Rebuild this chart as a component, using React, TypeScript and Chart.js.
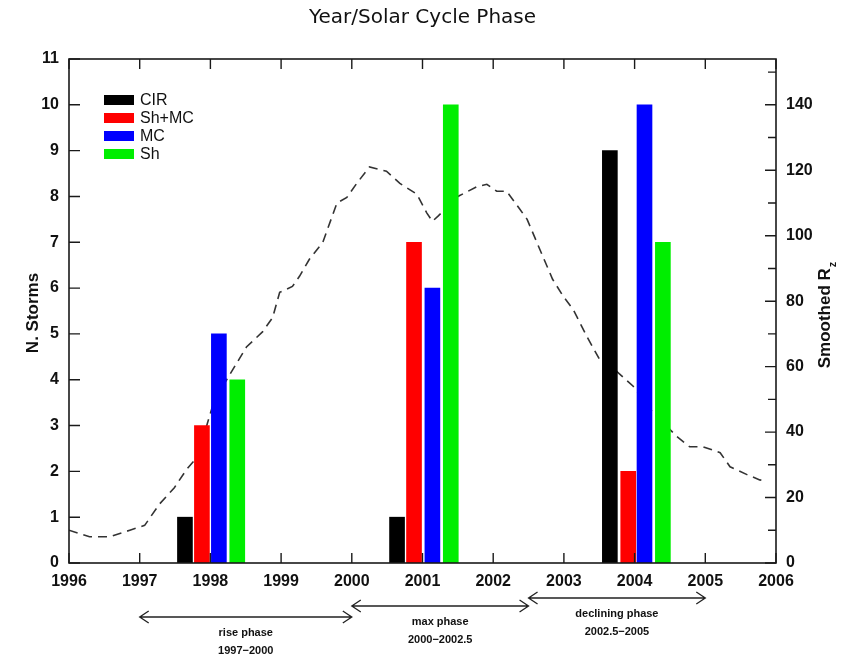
import React, { useEffect, useRef } from 'react';
import { Chart, registerables } from 'chart.js';

Chart.register(...registerables);

// ---- data ----
const seriesNames = ['CIR', 'Sh+MC', 'MC', 'Sh'];
const seriesColors = ['#000000', '#ff0000', '#0000ff', '#00ee00'];

const cirX = [1997.64, 2000.64, 2003.65];
const shmcX = [1997.88, 2000.88, 2003.91];
const mcX = [1998.12, 2001.14, 2004.14];
const shX = [1998.38, 2001.4, 2004.4];

const cirVals = [1, 1, 9];
const shmcVals = [3, 7, 2];
const mcVals = [5, 6, 10];
const shVals = [4, 10, 7];

const rzYears = [
  1996.0, 1996.15, 1996.29, 1996.57, 1996.86, 1997.07, 1997.28, 1997.49, 1997.66, 1997.78,
  1997.92, 1998.06, 1998.23, 1998.51, 1998.74, 1998.88, 1998.98, 1999.16, 1999.26, 1999.4,
  1999.59, 1999.79, 1999.93, 2000.07, 2000.25, 2000.49, 2000.68, 2000.92, 2001.06, 2001.14,
  2001.22, 2001.5, 2001.77, 2001.91, 2002.05, 2002.19, 2002.38, 2002.48, 2002.66, 2002.84,
  2002.99, 2003.13, 2003.33, 2003.51, 2003.75, 2003.98, 2004.26, 2004.6, 2004.78, 2004.97,
  2005.21, 2005.35, 2005.59, 2005.77, 2005.87,
];
const rzVals = [
  10, 9, 8, 8, 10, 11.5, 18, 23, 28.5, 31.5,
  40, 50, 56, 66, 70.7, 75, 82.7, 84.5, 87.6, 92.8,
  98, 110, 111.7, 116, 121, 119.7, 116, 112.7, 107, 104.4,
  106, 112, 115, 115.7, 113.6, 113.6, 108, 105, 95.8, 86.7,
  81.5, 77.5, 69, 62, 58.5, 54, 46, 38.6, 35.5, 35.5,
  33.7, 29.4, 27, 25.4, 24.8,
];

const phaseStart = [1997, 2000, 2002.5];
const phaseEnd = [2000, 2002.5, 2005];
const phaseName = ['rise phase', 'max phase', 'declining phase'];
const phaseRange = ['1997\u22122000', '2000\u22122002.5', '2002.5\u22122005'];

const titleText = 'Year/Solar Cycle Phase';
const yTitle = 'N. Storms';
const y2TitleMain = 'Smoothed R';
const y2TitleSub = 'z';

const FONT = "'Liberation Sans', Arial, sans-serif";

const decorPlugin = {
  id: 'decor',
  afterDraw(chart: any) {
    const ctx = chart.ctx as CanvasRenderingContext2D;
    const { left, right, top, bottom } = chart.chartArea;
    const xs = chart.scales.x;
    const ys = chart.scales.y;
    const y2 = chart.scales.y2;
    ctx.save();

    // frame
    ctx.strokeStyle = '#1a1a1a';
    ctx.lineWidth = 1.6;
    ctx.strokeRect(left, top, right - left, bottom - top);

    // ticks
    ctx.lineWidth = 1.4;
    ctx.beginPath();
    xs.ticks.forEach((t: any) => {
      const px = xs.getPixelForValue(t.value);
      ctx.moveTo(px, bottom);
      ctx.lineTo(px, bottom - 10);
      ctx.moveTo(px, top);
      ctx.lineTo(px, top + 10);
    });
    ys.ticks.forEach((t: any) => {
      const py = ys.getPixelForValue(t.value);
      ctx.moveTo(left, py);
      ctx.lineTo(left + 11, py);
    });
    y2.ticks.forEach((t: any) => {
      const py = y2.getPixelForValue(t.value);
      const len = t.value % 20 === 0 ? 11 : 8;
      ctx.moveTo(right, py);
      ctx.lineTo(right - len, py);
    });
    ctx.stroke();

    // title
    ctx.fillStyle = '#111';
    ctx.font = "20px 'DejaVu Sans', sans-serif";
    ctx.textAlign = 'center';
    ctx.textBaseline = 'middle';
    ctx.fillText(titleText, (left + right) / 2, 18);

    // left axis title
    ctx.save();
    ctx.translate(33, 313);
    ctx.rotate(-Math.PI / 2);
    ctx.font = `bold 17px ${FONT}`;
    ctx.textAlign = 'center';
    ctx.textBaseline = 'middle';
    ctx.fillText(yTitle, 0, 0);
    ctx.restore();

    // right axis title with subscript
    ctx.save();
    ctx.translate(825, 315);
    ctx.rotate(-Math.PI / 2);
    ctx.font = `bold 17px ${FONT}`;
    const wMain = ctx.measureText(y2TitleMain).width;
    ctx.font = `bold 11px ${FONT}`;
    const wSub = ctx.measureText(y2TitleSub).width;
    const start = -(wMain + wSub + 1) / 2;
    ctx.textAlign = 'left';
    ctx.textBaseline = 'middle';
    ctx.font = `bold 17px ${FONT}`;
    ctx.fillText(y2TitleMain, start, 0);
    ctx.font = `bold 11px ${FONT}`;
    ctx.fillText(y2TitleSub, start + wMain + 1, 8);
    ctx.restore();

    // legend
    ctx.font = `16px ${FONT}`;
    ctx.textAlign = 'left';
    ctx.textBaseline = 'middle';
    seriesNames.forEach((n, i) => {
      const cy = 100 + i * 18;
      ctx.fillStyle = seriesColors[i];
      ctx.fillRect(104, cy - 5, 30, 10);
      ctx.fillStyle = '#111';
      ctx.fillText(n, 140, cy + 0.5);
    });

    // phase arrows
    const arrowY = [617, 606, 598];
    ctx.strokeStyle = '#222';
    ctx.lineWidth = 1.3;
    phaseStart.forEach((s, i) => {
      const x1 = xs.getPixelForValue(s);
      const x2 = xs.getPixelForValue(phaseEnd[i]);
      const y = arrowY[i];
      ctx.beginPath();
      ctx.moveTo(x1, y);
      ctx.lineTo(x2, y);
      ctx.moveTo(x1 + 9, y - 6);
      ctx.lineTo(x1, y);
      ctx.lineTo(x1 + 9, y + 6);
      ctx.moveTo(x2 - 9, y - 6);
      ctx.lineTo(x2, y);
      ctx.lineTo(x2 - 9, y + 6);
      ctx.stroke();
      const cx = (x1 + x2) / 2;
      ctx.fillStyle = '#111';
      ctx.font = `bold 11px ${FONT}`;
      ctx.textAlign = 'center';
      ctx.textBaseline = 'middle';
      ctx.fillText(phaseName[i], cx, y + 16);
      ctx.fillText(phaseRange[i], cx, y + 34);
    });

    ctx.restore();
  },
};

const mkBar = (label: string, xsArr: number[], vals: number[], color: string) => ({
  type: 'bar' as const,
  label,
  data: xsArr.map((x, i) => ({ x, y: vals[i] })),
  backgroundColor: color,
  borderWidth: 0,
  barThickness: 15,
  grouped: false,
  xAxisID: 'x',
  yAxisID: 'y',
  order: 0,
});

export default function App() {
  const ref = useRef<HTMLCanvasElement | null>(null);
  useEffect(() => {
    if (!ref.current) return;
    const tickFont = { family: FONT, size: 16, weight: 'bold' as const };
    const chart = new Chart(ref.current, {
      type: 'bar',
      data: {
        datasets: [
          mkBar(seriesNames[0], cirX, cirVals, seriesColors[0]),
          mkBar(seriesNames[1], shmcX, shmcVals, seriesColors[1]),
          mkBar(seriesNames[2], mcX, mcVals, seriesColors[2]),
          mkBar(seriesNames[3], shX, shVals, seriesColors[3]),
          {
            type: 'line' as const,
            label: 'Smoothed Rz',
            data: rzYears.map((x, i) => ({ x, y: rzVals[i] })),
            borderColor: '#333',
            borderWidth: 1.6,
            borderDash: [9, 6],
            pointRadius: 0,
            fill: false,
            tension: 0,
            xAxisID: 'x',
            yAxisID: 'y2',
            order: 1,
          } as any,
        ],
      },
      options: {
        responsive: false,
        animation: false,
        events: [],
        layout: { padding: { top: 59, left: 0, right: 0, bottom: 0 } },
        plugins: {
          legend: { display: false },
          tooltip: { enabled: false },
          title: { display: false },
        },
        scales: {
          x: {
            type: 'linear',
            position: 'bottom',
            min: 1996,
            max: 2006,
            offset: false,
            grid: { display: false, drawTicks: false },
            border: { display: false },
            ticks: {
              stepSize: 1,
              autoSkip: false,
              maxRotation: 0,
              padding: 9,
              color: '#111',
              font: tickFont,
              callback: (v: any) => String(v),
            },
            afterFit: (s: any) => {
              s.height = 97;
            },
          },
          y: {
            type: 'linear',
            position: 'left',
            min: 0,
            max: 11,
            grid: { display: false, drawTicks: false },
            border: { display: false },
            ticks: {
              stepSize: 1,
              autoSkip: false,
              padding: 10,
              color: '#111',
              font: tickFont,
              callback: (v: any) => String(v),
            },
            afterFit: (s: any) => {
              s.width = 69;
            },
          },
          y2: {
            type: 'linear',
            position: 'right',
            min: 0,
            max: 154,
            grid: { display: false, drawTicks: false },
            border: { display: false },
            ticks: {
              stepSize: 10,
              includeBounds: false,
              autoSkip: false,
              padding: 10,
              color: '#111',
              font: tickFont,
              callback: (v: any) => (v % 20 === 0 ? String(v) : ''),
            },
            afterFit: (s: any) => {
              s.width = 68;
            },
          },
        },
      } as any,
      plugins: [decorPlugin],
    });
    return () => chart.destroy();
  }, []);

  return (
    <div style={{ position: 'absolute', left: 0, top: 0, width: 844, height: 660, background: '#fff' }}>
      <canvas ref={ref} width={844} height={660} style={{ display: 'block', width: 844, height: 660 }} />
    </div>
  );
}
